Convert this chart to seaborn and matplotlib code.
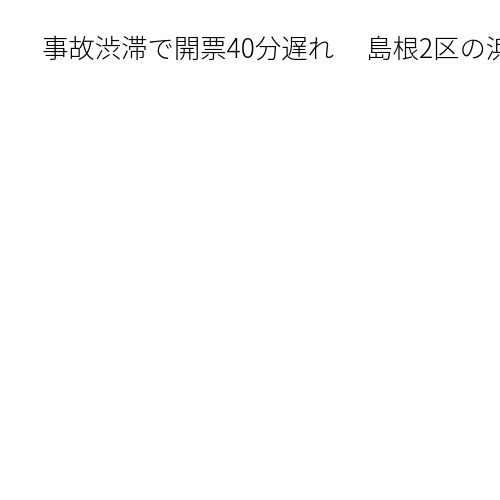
import matplotlib
matplotlib.use("Agg")
import matplotlib.pyplot as plt
import seaborn as sns

# the reference shows only a headline, nothing is plotted below it
headline = "事故渋滞で開票40分遅れ　 島根2区の浜田市"

sns.set_theme(style="white")
plt.rcParams['font.family'] = ['Noto Sans CJK JP', 'DejaVu Sans']

fig, ax = plt.subplots(figsize=(5, 5), dpi=100)
ax.set_axis_off()

fig.text(42 / 500, 1 - 50 / 500, headline, fontsize=19, color="black",
         ha="left", va="center", fontweight="light")

fig.savefig("out.png", dpi=100, facecolor="white")
